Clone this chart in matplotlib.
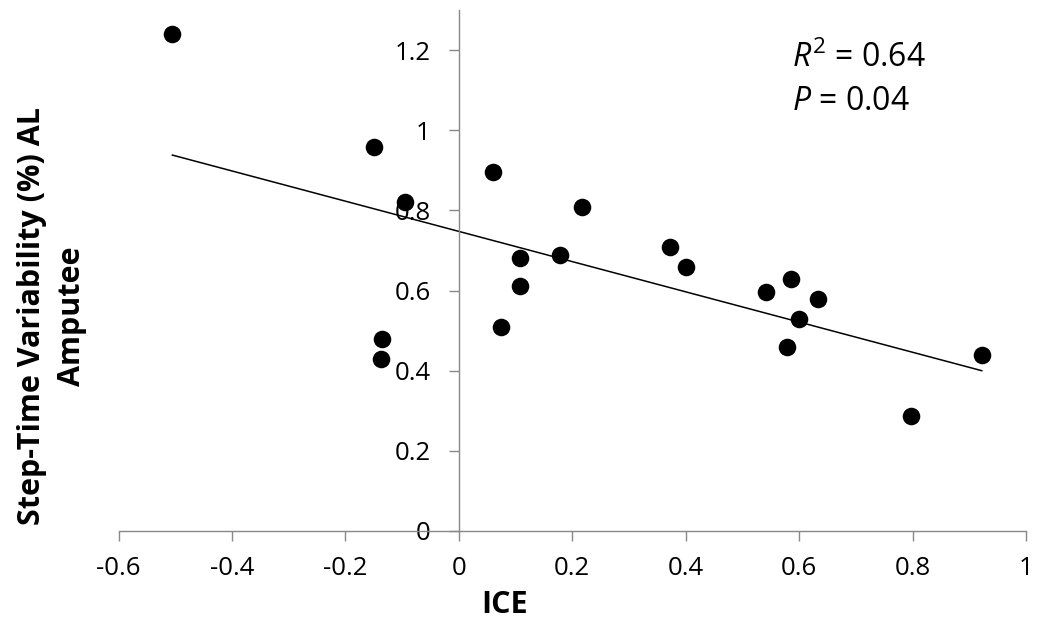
import matplotlib
matplotlib.use("Agg")
import matplotlib.pyplot as plt

# Data
ice = [-0.505, -0.149, -0.094, -0.135, -0.138, 0.060, 0.075, 0.107, 0.107,
       0.178, 0.217, 0.373, 0.401, 0.541, 0.586, 0.579, 0.600, 0.633, 0.798, 0.922]
step_var = [1.239, 0.959, 0.820, 0.478, 0.428, 0.897, 0.508, 0.681, 0.611,
            0.688, 0.809, 0.709, 0.658, 0.597, 0.628, 0.458, 0.529, 0.580, 0.288, 0.440]
trend_x = [-0.505, 0.922]
trend_y = [0.938, 0.400]
x_ticks = [-0.6, -0.4, -0.2, 0, 0.2, 0.4, 0.6, 0.8, 1]
x_ticklabels = ["-0.6", "-0.4", "-0.2", "0", "0.2", "0.4", "0.6", "0.8", "1"]
y_ticks = [0, 0.2, 0.4, 0.6, 0.8, 1.0, 1.2]
y_ticklabels = ["0", "0.2", "0.4", "0.6", "0.8", "1", "1.2"]

plt.rcParams['font.family'] = ['Open Sans', 'DejaVu Sans']
plt.rcParams['mathtext.fontset'] = 'custom'
plt.rcParams['mathtext.rm'] = 'Open Sans'
plt.rcParams['mathtext.it'] = 'Open Sans:italic'

fig = plt.figure(figsize=(10.41, 6.30), dpi=100)
ax = fig.add_axes([118.5 / 1041, (630 - 531) / 630, (1026 - 118.5) / 1041, (531 - 10) / 630])

ax.scatter(ice, step_var, s=160, color='black', zorder=3, linewidths=0)
ax.plot(trend_x, trend_y, color='black', lw=1.1, zorder=2)

ax.set_xlim(-0.6, 1.0)
ax.set_ylim(0, 1.3)
ax.spines['top'].set_visible(False)
ax.spines['right'].set_visible(False)
ax.spines['left'].set_position(('data', 0))
ax.spines['bottom'].set_position(('data', 0))
for s in ('left', 'bottom'):
    ax.spines[s].set_color('#888888')
    ax.spines[s].set_linewidth(1.0)

ax.set_xticks(x_ticks)
ax.set_xticklabels(x_ticklabels)
ax.set_yticks(y_ticks)
ax.set_yticklabels(y_ticklabels)
ax.tick_params(axis='both', direction='out', length=7.2, width=1.0, color='#888888',
               labelsize=18.5, labelcolor='black')
ax.tick_params(axis='x', pad=11)
ax.tick_params(axis='y', pad=13)

ax.text(0.588, 1.158, r'$\mathit{R}^{2}$ = 0.64', fontsize=23, va='baseline', ha='left')
ax.text(0.588, 1.050, r'$\mathit{P}$ = 0.04', fontsize=23, va='baseline', ha='left')

fig.text(505 / 1041, 1 - 605 / 630, 'ICE', fontsize=22, fontweight='bold',
         ha='center', va='center')
fig.text(52 / 1041, 1 - 316 / 630, 'Step-Time Variability (%) AL\nAmputee', fontsize=22,
         fontweight='bold', rotation=90, ha='center', va='center', multialignment='center',
         linespacing=1.45)

fig.savefig('out.png', dpi=100)
